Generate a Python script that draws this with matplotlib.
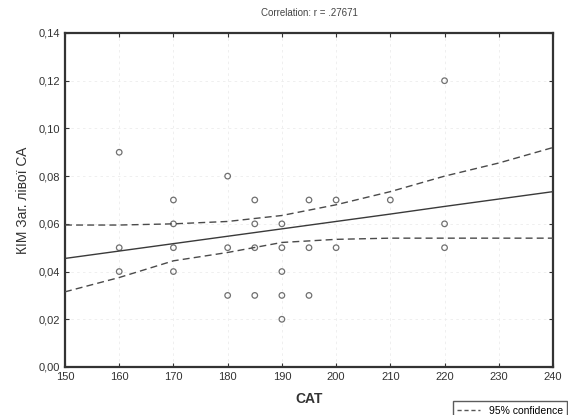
import matplotlib.pyplot as plt
from matplotlib.lines import Line2D

plt.rcParams["font.family"] = ["Liberation Sans", "DejaVu Sans"]

# Точки (CAT, КІМ)
cat = [160, 160, 160,
       170, 170, 170, 170,
       180, 180, 180,
       185, 185, 185, 185,
       190, 190, 190, 190, 190,
       195, 195, 195,
       200, 200,
       210,
       220, 220, 220]
kim = [0.09, 0.05, 0.04,
       0.07, 0.06, 0.05, 0.04,
       0.08, 0.05, 0.03,
       0.07, 0.06, 0.05, 0.03,
       0.06, 0.05, 0.04, 0.03, 0.02,
       0.07, 0.05, 0.03,
       0.07, 0.05,
       0.07,
       0.12, 0.06, 0.05]

# Лінія регресії та 95% довірчі межі
x_line = [150, 160, 170, 180, 190, 200, 210, 220, 230, 240]
fit_line = [0.0455, 0.0486, 0.0517, 0.0548, 0.0579, 0.0610, 0.0641, 0.0673, 0.0704, 0.0735]
ci_upper = [0.0595, 0.0595, 0.0600, 0.0610, 0.0635, 0.0680, 0.0735, 0.0800, 0.0855, 0.0920]
ci_lower = [0.0315, 0.0375, 0.0445, 0.0480, 0.0522, 0.0535, 0.0540, 0.0540, 0.0540, 0.0540]

x_ticks = [150, 160, 170, 180, 190, 200, 210, 220, 230, 240]
y_ticks = [0.00, 0.02, 0.04, 0.06, 0.08, 0.10, 0.12, 0.14]
y_labels = ["0,00", "0,02", "0,04", "0,06", "0,08", "0,10", "0,12", "0,14"]

fig = plt.figure(figsize=(5.68, 4.15), dpi=100)
ax = fig.add_axes([0.1144, 0.1157, 0.8592, 0.8048])

# Сітка (ледь помітна, як на скані)
ax.grid(True, color="#ececec", linestyle=(0, (3, 4)), linewidth=0.6)
ax.set_axisbelow(True)

ax.scatter(cat, kim, s=16, facecolors="none", edgecolors="#707070", linewidths=0.9, zorder=3)

ax.plot(x_line, fit_line, color="#3a3a3a", linewidth=1.0, zorder=4)
ax.plot(x_line, ci_upper, color="#4a4a4a", linewidth=1.0, linestyle=(0, (5, 3)), zorder=4)
ax.plot(x_line, ci_lower, color="#4a4a4a", linewidth=1.0, linestyle=(0, (5, 3)), zorder=4)

ax.set_xlim(150, 240)
ax.set_ylim(0, 0.14)
ax.set_xticks(x_ticks)
ax.set_yticks(y_ticks)
ax.set_yticklabels(y_labels)
ax.tick_params(axis="both", direction="in", length=3, labelsize=8,
               colors="#333333", top=True, right=True)

for sp in ax.spines.values():
    sp.set_linewidth(1.6)
    sp.set_color("#333333")

ax.set_title("Correlation: r = .27671", fontsize=7, color="#444444", pad=12)
ax.set_xlabel("CAT", fontsize=10, fontweight="bold", color="#333333", labelpad=7)
ax.set_ylabel("КІМ Заг. лівої СА", fontsize=10, color="#333333", labelpad=6)

# Легенда в нижньому правому куті
handle = Line2D([0], [0], color="#555555", linestyle=(0, (3, 2)), linewidth=1.0)
leg = fig.legend([handle], ["95% confidence"], loc="lower right",
                 bbox_to_anchor=(1.0, -0.014), fontsize=7.5, frameon=True,
                 fancybox=False, edgecolor="#333333", handlelength=2.2,
                 borderpad=0.4, borderaxespad=0.1)
leg.get_frame().set_linewidth(1.0)

fig.savefig("out.png", dpi=100)
